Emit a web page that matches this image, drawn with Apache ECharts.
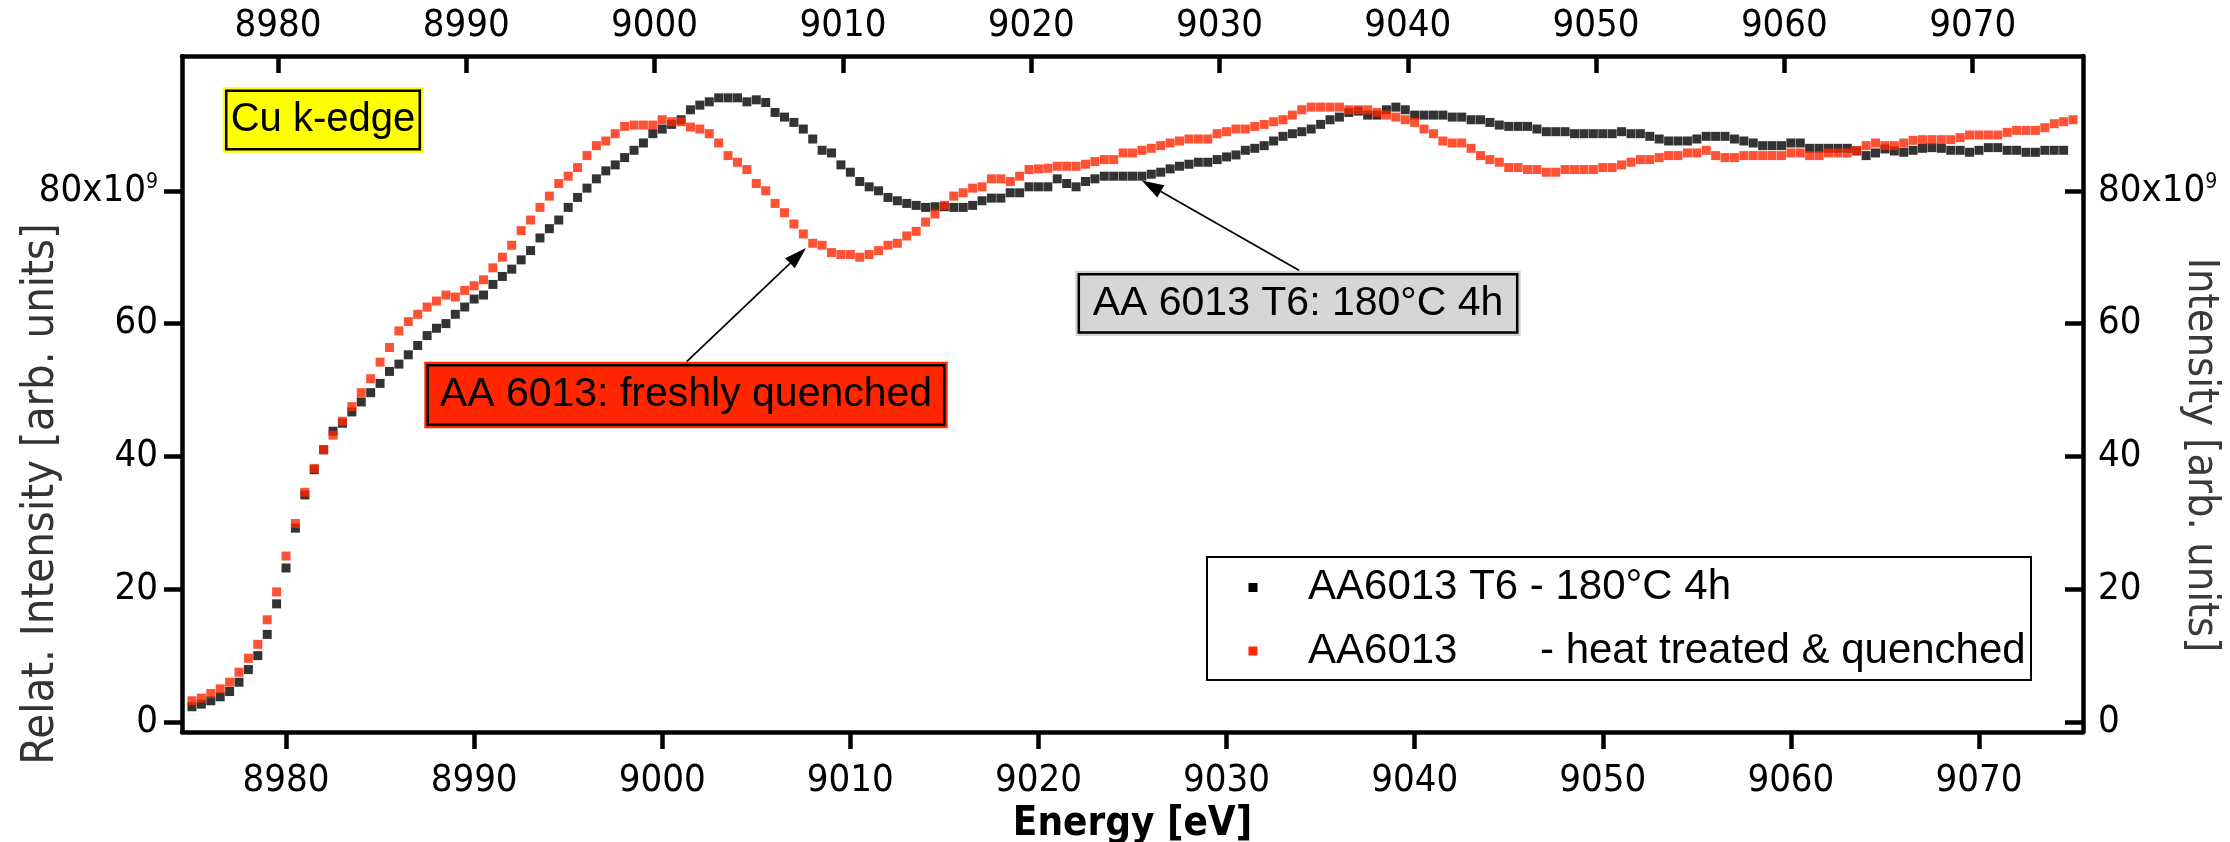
<!DOCTYPE html>
<html><head><meta charset="utf-8">
<script src="https://cdn.jsdelivr.net/npm/echarts@6/dist/echarts.min.js"></script>
<style>html,body{margin:0;padding:0;background:#fff;}#c{width:2230px;height:842px;}</style>
</head><body><div id="c"></div>
<script>
// Energy grid [eV]
const energy = [
8975,8975.5,8976,8976.5,8977,8977.5,8978,8978.5,8979,8979.5,
8980,8980.5,8981,8981.5,8982,8982.5,8983,8983.5,8984,8984.5,
8985,8985.5,8986,8986.5,8987,8987.5,8988,8988.5,8989,8989.5,
8990,8990.5,8991,8991.5,8992,8992.5,8993,8993.5,8994,8994.5,
8995,8995.5,8996,8996.5,8997,8997.5,8998,8998.5,8999,8999.5,
9000,9000.5,9001,9001.5,9002,9002.5,9003,9003.5,9004,9004.5,
9005,9005.5,9006,9006.5,9007,9007.5,9008,9008.5,9009,9009.5,
9010,9010.5,9011,9011.5,9012,9012.5,9013,9013.5,9014,9014.5,
9015,9015.5,9016,9016.5,9017,9017.5,9018,9018.5,9019,9019.5,
9020,9020.5,9021,9021.5,9022,9022.5,9023,9023.5,9024,9024.5,
9025,9025.5,9026,9026.5,9027,9027.5,9028,9028.5,9029,9029.5,
9030,9030.5,9031,9031.5,9032,9032.5,9033,9033.5,9034,9034.5,
9035,9035.5,9036,9036.5,9037,9037.5,9038,9038.5,9039,9039.5,
9040,9040.5,9041,9041.5,9042,9042.5,9043,9043.5,9044,9044.5,
9045,9045.5,9046,9046.5,9047,9047.5,9048,9048.5,9049,9049.5,
9050,9050.5,9051,9051.5,9052,9052.5,9053,9053.5,9054,9054.5,
9055,9055.5,9056,9056.5,9057,9057.5,9058,9058.5,9059,9059.5,
9060,9060.5,9061,9061.5,9062,9062.5,9063,9063.5,9064,9064.5,
9065,9065.5,9066,9066.5,9067,9067.5,9068,9068.5,9069,9069.5,
9070,9070.5,9071,9071.5,9072,9072.5,9073,9073.5,9074,9074.5,
9075];

// AA6013 T6 - 180°C 4h  (black), units of 1e9
const t6Intensity = [
2.3,2.7,3.2,3.8,4.6,6.0,7.9,10.0,13.2,17.8,
23.2,29.2,34.2,38.0,41.0,43.8,45.0,46.7,48.2,49.6,
51.0,52.8,53.9,55.3,56.7,58.2,59.3,60.0,61.4,62.5,
63.7,64.3,65.9,67.1,68.2,69.6,71.0,72.9,74.3,75.6,
77.5,79.0,80.4,81.8,83.0,83.9,85.0,86.1,87.2,88.6,
89.3,90.0,90.7,92.2,92.9,93.4,94.0,94.0,94.0,93.4,
93.7,93.3,91.8,91.1,90.3,89.3,87.8,86.1,85.7,83.9,
82.8,81.4,80.6,80.0,79.0,78.5,78.1,77.8,77.5,77.6,
77.6,77.5,77.5,77.8,78.5,78.9,78.9,79.7,79.7,80.6,
80.6,80.6,81.8,81.1,80.6,81.4,81.8,82.2,82.2,82.2,
82.2,82.2,82.5,82.8,83.3,83.7,84.0,84.3,84.3,84.7,
85.1,85.4,86.1,86.4,86.8,87.5,88.2,88.6,88.9,89.3,
90.0,90.7,91.1,91.8,92.0,91.4,91.4,92.2,92.6,92.2,
91.4,91.4,91.4,91.4,91.1,91.1,90.7,90.7,90.3,89.9,
89.7,89.7,89.7,89.3,88.9,88.9,88.9,88.6,88.6,88.6,
88.6,88.6,88.9,88.6,88.6,88.2,87.8,87.5,87.5,87.5,
87.8,88.2,88.2,88.2,87.8,87.5,87.2,86.8,86.8,86.8,
87.2,87.2,86.4,86.4,86.4,86.4,86.4,86.0,85.3,85.7,
86.3,86.0,85.8,86.1,86.4,86.5,86.4,86.1,86.1,85.8,
86.1,86.5,86.5,86.1,86.1,85.8,85.8,86.1,86.1,86.1];

// AA6013 - heat treated & quenched (red), units of 1e9
const quenchedIntensity = [
3.2,3.6,4.3,5.0,6.0,7.5,9.6,11.7,15.4,19.6,
25.0,29.9,34.6,38.2,41.0,43.2,45.3,47.5,49.6,51.7,
54.2,56.4,58.9,60.3,61.4,62.5,63.4,64.3,64.0,65.0,
65.7,66.6,68.4,70.0,71.8,74.0,75.6,77.5,79.2,81.1,
82.2,83.5,85.3,86.8,87.5,88.6,89.7,89.9,89.9,89.9,
90.7,90.4,90.4,89.6,89.3,88.6,87.2,85.3,84.3,83.2,
81.1,80.0,78.1,76.7,75.0,73.5,72.1,71.8,70.7,70.4,
70.4,70.0,70.4,71.0,71.8,72.1,73.2,73.9,75.3,76.5,
77.8,79.2,79.7,80.4,80.6,81.8,81.8,81.4,82.2,83.2,
83.3,83.4,83.7,83.7,83.7,84.0,84.4,84.7,84.7,85.7,
85.7,86.1,86.4,86.8,87.2,87.5,87.8,87.8,87.8,88.6,
88.9,89.3,89.3,89.7,90.0,90.4,90.7,91.4,92.2,92.6,
92.6,92.6,92.6,92.2,92.2,92.2,91.8,91.4,91.1,90.7,
90.3,89.3,88.6,87.5,87.2,87.2,86.4,85.3,84.7,84.3,
83.5,83.5,83.2,83.2,82.8,82.8,83.2,83.2,83.2,83.2,
83.5,83.5,83.9,84.3,84.7,84.7,85.0,85.3,85.3,85.7,
85.7,86.1,85.3,85.0,85.0,85.3,85.3,85.3,85.3,85.3,
85.7,85.7,85.3,85.3,85.7,85.7,85.7,86.1,86.8,87.2,
86.8,86.8,87.2,87.6,87.7,87.7,87.7,87.7,88.0,88.4,
88.4,88.4,88.4,88.8,89.1,89.1,89.1,89.5,90.1,90.4,
90.7];

const xTicks = [8980,8990,9000,9010,9020,9030,9040,9050,9060,9070];
const yTicks = [0,20,40,60,80];
const seriesNames = ['AA6013 T6 - 180°C 4h', 'AA6013 - heat treated & quenched'];
const seriesColors = ['#000000', '#FF2600'];

// annotation anchor points (data coords)
const redArrowTip = [9007.64, 71.37];
const blackArrowTip = [9025.49, 81.55];

const FONT_AX = '"DejaVu Sans Condensed", "DejaVu Sans", sans-serif';
const FONT_TXT = '"Liberation Sans", Arial, sans-serif';

const chart = echarts.init(document.getElementById('c'), null, {renderer: 'canvas'});

function yFmt(v) {
  return v === 80 ? '{n|80x10}{s|9}' : '{n|' + v + '}';
}
const yRich = {
  n: {fontSize: 38, fontFamily: FONT_AX, color: '#000', lineHeight: 38},
  s: {fontSize: 21, fontFamily: FONT_AX, color: '#000', verticalAlign: 'top', lineHeight: 22}
};
const axLine = {show: true, onZero: false, lineStyle: {color: '#000', width: 4.5}};
const xLabel = {customValues: xTicks, fontSize: 38, fontFamily: FONT_AX, color: '#000',
  formatter: function (v) { return String(v); }};

const option = {
  animation: false,
  backgroundColor: '#fff',
  grid: {left: 182, right: 147, top: 56, bottom: 110, containLabel: false, outerBoundsMode: 'none'},
  xAxis: [
    {type: 'value', position: 'bottom', min: 8974.47, max: 9075.53,
      axisLine: axLine,
      axisTick: {show: true, inside: false, length: 17, customValues: xTicks, lineStyle: {color: '#000', width: 4.5}},
      axisLabel: Object.assign({margin: 30}, xLabel),
      splitLine: {show: false},
      name: 'Energy [eV]', nameLocation: 'middle', nameGap: 66,
      nameTextStyle: {fontSize: 40, fontWeight: 'bold', fontFamily: FONT_AX, color: '#000'}
    },
    {type: 'value', position: 'top', min: 8974.90, max: 9075.86,
      axisLine: axLine,
      axisTick: {show: true, inside: true, length: 17, customValues: xTicks, lineStyle: {color: '#000', width: 4.5}},
      axisLabel: Object.assign({margin: 11}, xLabel),
      splitLine: {show: false}
    }
  ],
  yAxis: [
    {type: 'value', position: 'left', min: -1.5, max: 100.3,
      axisLine: axLine,
      axisTick: {show: true, inside: false, length: 18, customValues: yTicks, lineStyle: {color: '#000', width: 4.5}},
      axisLabel: {customValues: yTicks, margin: 24, formatter: yFmt, rich: yRich, align: 'right'},
      splitLine: {show: false}
    },
    {type: 'value', position: 'right', min: -1.5, max: 100.3,
      axisLine: axLine,
      axisTick: {show: true, inside: true, length: 18, customValues: yTicks, lineStyle: {color: '#000', width: 4.5}},
      axisLabel: {customValues: yTicks, margin: 15, formatter: yFmt, rich: yRich, align: 'left'},
      splitLine: {show: false}
    }
  ],
  legend: {show: false, data: seriesNames},
  series: [
    {type: 'scatter', name: seriesNames[0], xAxisIndex: 0, yAxisIndex: 0,
      symbol: 'rect', symbolSize: 9, itemStyle: {color: seriesColors[0]},
      data: t6Intensity.map((v, i) => [energy[i], v]), z: 2},
    {type: 'scatter', name: seriesNames[1], xAxisIndex: 0, yAxisIndex: 0,
      symbol: 'rect', symbolSize: 9, itemStyle: {color: seriesColors[1]},
      data: quenchedIntensity.map((v, i) => [energy[i], v]), z: 3}
  ]
};
chart.setOption(option);

function txt(id, x, y, text, fs, family, fill, extra) {
  return {type: 'text', id: id, x: x, y: y, z: 13,
    style: Object.assign({text: text, fontSize: fs, fontFamily: family, fill: fill,
      align: 'left', verticalAlign: 'middle', textAlign: 'left', textVerticalAlign: 'middle'}, extra || {})};
}
function arrow(tail, tip, id) {
  const dx = tip[0] - tail[0], dy = tip[1] - tail[1];
  const L = Math.sqrt(dx * dx + dy * dy);
  const ux = dx / L, uy = dy / L;
  const hl = 22, hw = 7;
  const bx = tip[0] - ux * hl, by = tip[1] - uy * hl;
  return [
    {type: 'line', id: id + 'l', z: 10, shape: {x1: tail[0], y1: tail[1], x2: bx, y2: by},
      style: {stroke: '#000', lineWidth: 1.7}},
    {type: 'polygon', id: id + 'h', z: 10,
      shape: {points: [[tip[0], tip[1]], [bx - uy * hw, by + ux * hw], [bx + uy * hw, by - ux * hw]]},
      style: {fill: '#000'}}
  ];
}
function box(id, x, y, w, h, fill, outer, text, fs) {
  return [
    {type: 'rect', id: id + 'o', z: 11, shape: {x: x, y: y, width: w, height: h}, style: {fill: outer, stroke: null}},
    {type: 'rect', id: id + 'i', z: 12, shape: {x: x + 3.5, y: y + 3.5, width: w - 7, height: h - 7},
      style: {fill: fill, stroke: '#000', lineWidth: 2.5}},
    txt(id + 't', x + w / 2, y + h / 2, text, fs, FONT_TXT, '#000', {align: 'center', textAlign: 'center'})
  ];
}

const redTip = chart.convertToPixel({xAxisIndex: 0, yAxisIndex: 0}, redArrowTip);
const blackTip = chart.convertToPixel({xAxisIndex: 0, yAxisIndex: 0}, blackArrowTip);

// legend drawn as a framed key
const legendBox = {x: 1207, y: 557, w: 824, h: 123};
const legendRowsY = [587.5, 651];
const legendGraphics = [
  {type: 'rect', id: 'lgb', z: 11, shape: {x: legendBox.x, y: legendBox.y, width: legendBox.w, height: legendBox.h},
    style: {fill: '#fff', stroke: '#000', lineWidth: 2}},
  {type: 'rect', id: 'lgm0', z: 12, shape: {x: 1248.5, y: legendRowsY[0] - 4.5, width: 9, height: 9}, style: {fill: seriesColors[0]}},
  {type: 'rect', id: 'lgm1', z: 12, shape: {x: 1248.5, y: legendRowsY[1] - 4.5, width: 9, height: 9}, style: {fill: seriesColors[1]}},
  txt('lgt0', 1308, legendRowsY[0], seriesNames[0], 42, FONT_TXT, '#000'),
  txt('lgt1a', 1308, legendRowsY[1], 'AA6013', 42, FONT_TXT, '#000'),
  txt('lgt1b', 1540, legendRowsY[1], '- heat treated & quenched', 42, FONT_TXT, '#000')
];

const graphics = [].concat(
  arrow([686.7, 361.7], redTip, 'ra'),
  arrow([1299.3, 270.5], blackTip, 'ba'),
  box('cu', 222.7, 87.3, 200.6, 65.4, '#FFFF00', '#FFFF00', 'Cu k-edge', 40),
  box('rb', 424.3, 361.7, 523.4, 66.6, '#FF2600', '#FF2600', 'AA 6013: freshly quenched', 41),
  box('gb', 1075.3, 270.7, 445.4, 65.3, '#D6D6D6', '#D0D0D0', 'AA 6013 T6: 180°C 4h', 41),
  legendGraphics,
  [
    {type: 'text', id: 'ylt', x: 41, y: 494, rotation: Math.PI / 2, z: 5,
      style: {text: 'Relat. Intensity [arb. units]', fontSize: 45, fontFamily: FONT_AX, fill: '#333',
        align: 'center', verticalAlign: 'middle', textAlign: 'center', textVerticalAlign: 'middle'}},
    {type: 'text', id: 'yrt', x: 2200, y: 455, rotation: -Math.PI / 2, z: 5,
      style: {text: 'Intensity [arb. units]', fontSize: 43, fontFamily: FONT_AX, fill: '#3a3a3a',
        align: 'center', verticalAlign: 'middle', textAlign: 'center', textVerticalAlign: 'middle'}}
  ]
);
chart.setOption({graphic: {elements: graphics}});
</script>
</body></html>
